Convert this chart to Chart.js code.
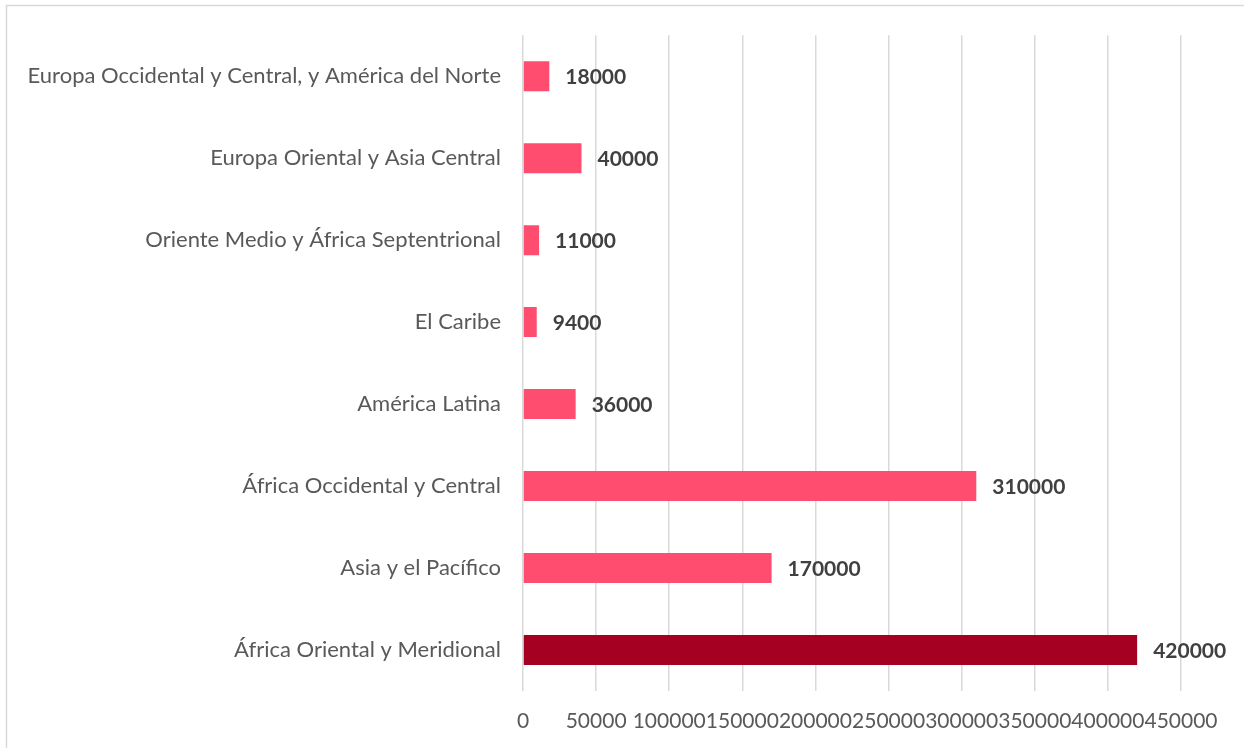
<!DOCTYPE html>
<html>
<head>
<meta charset="utf-8">
<script src="https://cdn.jsdelivr.net/npm/chart.js@4"></script>
<style>
  html, body { margin: 0; padding: 0; background: #fff; }
  canvas { display: block; }
</style>
</head>
<body>
<canvas id="canvas" width="1244" height="748"></canvas>
<script>
const regions = [
    'Europa Occidental y Central, y América del Norte',
    'Europa Oriental y Asia Central',
    'Oriente Medio y África Septentrional',
    'El Caribe',
    'América Latina',
    'África Occidental y Central',
    'Asia y el Pacífico',
    'África Oriental y Meridional'
];
const infections = [18000, 40000, 11000, 9400, 36000, 310000, 170000, 420000];
const xTicks = [0, 50000, 100000, 150000, 200000, 250000, 300000, 350000, 400000, 450000];

const pink = '#FF4D6F';
const darkRed = '#A50021';
const barColors = regions.map((r, i) => (i === regions.length - 1 ? darkRed : pink));

const FONT = 'Lato, "Open Sans", sans-serif';

const frame = {
    id: 'frame',
    beforeDraw: (chart) => {
        const ctx = chart.ctx;
        ctx.save();
        ctx.strokeStyle = '#d9d9d9';
        ctx.lineWidth = 1.5;
        ctx.beginPath();
        ctx.moveTo(6.5, chart.height + 2);
        ctx.lineTo(6.5, 5.5);
        ctx.lineTo(chart.width + 2, 5.5);
        ctx.stroke();
        ctx.restore();
    }
};

const valueLabels = {
    id: 'valueLabels',
    afterDatasetsDraw: (chart) => {
        const ctx = chart.ctx;
        const meta = chart.getDatasetMeta(0);
        ctx.save();
        ctx.font = 'bold 21px ' + FONT;
        ctx.fillStyle = '#404040';
        ctx.textAlign = 'left';
        ctx.textBaseline = 'middle';
        meta.data.forEach((bar, i) => {
            ctx.fillText(String(infections[i]), bar.x + 16, bar.y + 1);
        });
        ctx.restore();
    }
};

new Chart(document.getElementById('canvas'), {
    type: 'bar',
    data: {
        labels: regions,
        datasets: [
            {
                data: infections,
                backgroundColor: barColors,
                borderWidth: 0,
                categoryPercentage: 1,
                barPercentage: 0.366,
            }
        ],
    },
    plugins: [frame, valueLabels],
    options: {
        indexAxis: 'y',
        responsive: false,
        animation: false,
        layout: {
            padding: { top: 34, right: 63, left: 0, bottom: 0 },
        },
        plugins: {
            legend: { display: false },
            tooltip: { enabled: false },
        },
        scales: {
            x: {
                min: 0,
                max: 450000,
                afterBuildTicks: (scale) => {
                    scale.ticks = xTicks.map(v => ({ value: v }));
                },
                afterFit: (scale) => {
                    scale.height = 57;
                },
                grid: {
                    color: '#d9d9d9',
                    lineWidth: 1.5,
                    drawTicks: false,
                },
                border: { display: false },
                ticks: {
                    autoSkip: false,
                    maxRotation: 0,
                    padding: 18,
                    color: '#595959',
                    font: { family: FONT, size: 21 },
                    callback: (value) => String(value),
                },
            },
            y: {
                afterFit: (scale) => {
                    scale.width = 523;
                },
                grid: { display: false, drawTicks: false },
                border: { display: false },
                ticks: {
                    padding: 22,
                    color: '#595959',
                    font: { family: FONT, size: 22 },
                },
            },
        },
    },
});
</script>
</body>
</html>
